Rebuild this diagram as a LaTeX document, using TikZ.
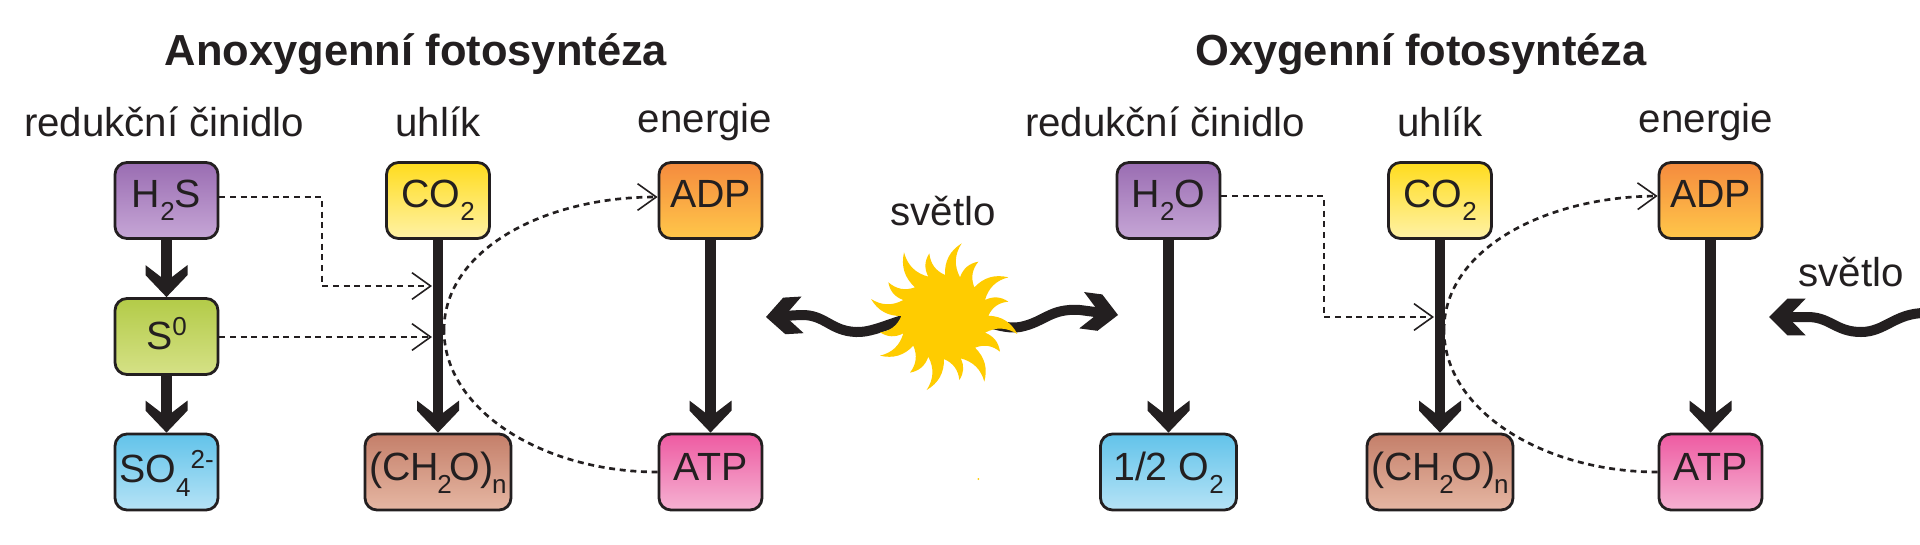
\documentclass[tikz,border=0pt]{standalone}
\usepackage{fontspec}
\setmainfont{Liberation Sans}
\usetikzlibrary{arrows.meta,calc}
\definecolor{ink}{HTML}{231F20}
\pgfdeclarearrow{
  name=Chev,
  setup code={
    \pgfarrowssettipend{0pt}
    \pgfarrowssetbackend{-24pt}
    \pgfarrowssetlineend{-13pt}
    \pgfarrowssetvisualbackend{-13pt}
  },
  drawing code={
    \pgfpathmoveto{\pgfpoint{0pt}{0pt}}
    \pgfpathlineto{\pgfpoint{-16.5pt}{15.75pt}}
    \pgfpathlineto{\pgfpoint{-24pt}{15.75pt}}
    \pgfpathlineto{\pgfpoint{-15pt}{4pt}}
    \pgfpathlineto{\pgfpoint{-15pt}{-4pt}}
    \pgfpathlineto{\pgfpoint{-24pt}{-15.75pt}}
    \pgfpathlineto{\pgfpoint{-16.5pt}{-15.75pt}}
    \pgfpathclose
    \pgfusepathqfill
  }
}
\pgfdeclarearrow{
  name=Chew,
  setup code={
    \pgfarrowssettipend{0pt}
    \pgfarrowssetbackend{-27.5pt}
    \pgfarrowssetlineend{-14pt}
    \pgfarrowssetvisualbackend{-14pt}
  },
  drawing code={
    \pgfpathmoveto{\pgfpoint{0pt}{0pt}}
    \pgfpathlineto{\pgfpoint{-13.75pt}{13.75pt}}
    \pgfpathlineto{\pgfpoint{-27.5pt}{13.75pt}}
    \pgfpathlineto{\pgfpoint{-17.5pt}{3.5pt}}
    \pgfpathlineto{\pgfpoint{-17.5pt}{-3.5pt}}
    \pgfpathlineto{\pgfpoint{-27.5pt}{-13.75pt}}
    \pgfpathlineto{\pgfpoint{-13.75pt}{-13.75pt}}
    \pgfpathclose
    \pgfusepathqfill
  }
}
\newcommand{\sbs}[1]{\raisebox{-10pt}{\fontsize{19.5pt}{19.5pt}\selectfont #1}}
\newcommand{\sps}[1]{\raisebox{11pt}{\fontsize{19.5pt}{19.5pt}\selectfont #1}}
\tikzset{
  chem/.style={draw=ink,line width=2.1pt,rounded corners=9pt,inner sep=0pt,
    minimum width=77.25pt,minimum height=57pt,text=ink,
    text height=20pt,text depth=10pt,
    font=\fontsize{29.5pt}{31pt}\selectfont},
  lowone/.style={text height=22pt},
  lowtwo/.style={text height=26pt},
  lowthree/.style={text height=30pt},
  widebox/.style={minimum width=109.5pt},
  midbox/.style={minimum width=102pt},
  purple/.style={top color=violetA,bottom color=violetB},
  lime/.style={top color=limeA,bottom color=limeB},
  sky/.style={top color=skyA,bottom color=skyB},
  sun1/.style={top color=yelA,bottom color=yelB},
  brown/.style={top color=broA,bottom color=broB},
  orange/.style={top color=oraA,bottom color=oraB},
  pink/.style={top color=pinA,bottom color=pinB},
  head/.style={text=ink,font=\fontsize{30.2pt}{32pt}\selectfont},
  title/.style={text=ink,font=\fontsize{32.6pt}{34pt}\selectfont\bfseries},
  flow/.style={line width=8pt,draw=ink,-{Chev}},
  wave/.style={line width=7.5pt,draw=ink,-{Chew},line cap=round},
  link/.style={draw=ink,line width=2pt,dash pattern=on 4.5pt off 3.5pt,
    -{Straight Barb[length=14pt,width=20pt,line width=1.2pt]}},
  linkplain/.style={draw=ink,line width=2pt,dash pattern=on 4.5pt off 3.5pt},
  ray/.style={bend left=30},
  ret/.style={bend right=30}
}
\definecolor{violetA}{HTML}{9A6DB2}\definecolor{violetB}{HTML}{C6A6D6}
\definecolor{limeA}{HTML}{B3CB48}\definecolor{limeB}{HTML}{D5E186}
\definecolor{skyA}{HTML}{62C3EA}\definecolor{skyB}{HTML}{B6E3F6}
\definecolor{yelA}{HTML}{FFDC1E}\definecolor{yelB}{HTML}{FFF2A6}
\definecolor{broA}{HTML}{C47F6A}\definecolor{broB}{HTML}{E6B7A3}
\definecolor{oraA}{HTML}{F58B3E}\definecolor{oraB}{HTML}{FFC74A}
\definecolor{pinA}{HTML}{EE5BA2}\definecolor{pinB}{HTML}{F5B2D2}
\begin{document}
\begin{tikzpicture}[x=0.75pt,y=-0.75pt]
\useasboundingbox (0,0) rectangle (1920,544);
\clip (0,0) rectangle (1920,544);
\fill[white] (0,0) rectangle (1920,544);
% titles
\node[title] (t1) at (416,54) {Anoxygenní fotosyntéza};
\node[title] (t2) at (1421,54) {Oxygenní fotosyntéza};
% headings
\node[head] (a1) at (164,122) {redukční činidlo};
\node[head] (a2) at (438,122) {uhlík};
\node[head] (a3) at (705,122) {energie};
\node[head] (a4) at (943,211) {světlo};
\node[head] (b1) at (1165,122) {redukční činidlo};
\node[head] (b2) at (1440,122) {uhlík};
\node[head] (b3) at (1706,122) {energie};
\node[head] (b4) at (1851,272) {světlo};
% left boxes
\node[chem,purple] (h2s) at (166.5,200.5) {H\sbs{2}S};
\node[chem,lime,lowthree] (s0) at (166.5,336.5) {S\sps{0}};
\node[chem,sky,lowtwo] (so4) at (166.5,472) {SO\sbs{4}\sps{2-}};
\node[chem,sun1] (co2a) at (438,200.5) {CO\sbs{2}};
\node[chem,brown,widebox,lowone] (cha) at (438,472) {(CH\kern-1.5pt\sbs{2}\kern-1.5ptO)\kern-1pt\sbs{n}};
\node[chem,orange] (adpa) at (710.5,200.5) {ADP};
\node[chem,pink,lowone] (atpa) at (710.5,472) {ATP};
% right boxes
\node[chem,purple] (h2o) at (1168.5,200.5) {H\sbs{2}O};
\node[chem,sky,midbox,lowone] (o2) at (1168.5,472) {1/2 O\sbs{2}};
\node[chem,sun1] (co2b) at (1440,200.5) {CO\sbs{2}};
\node[chem,brown,widebox,lowone] (chb) at (1440,472) {(CH\kern-1.5pt\sbs{2}\kern-1.5ptO)\kern-1pt\sbs{n}};
\node[chem,orange] (adpb) at (1710.5,200.5) {ADP};
\node[chem,pink,lowone] (atpb) at (1710.5,472) {ATP};
% thick flows
\draw[flow] (h2s) -- (s0);
\draw[flow] (s0) -- (so4);
\draw[flow] (co2a) -- (cha);
\draw[flow] (adpa) -- (atpa);
\draw[flow] (h2o) -- (o2);
\draw[flow] (co2b) -- (chb);
\draw[flow] (adpb) -- (atpb);
% dashed links
\coordinate (j1) at (322,197);
\coordinate (e1) at (432,286);
\coordinate (e2) at (432,337);
\coordinate (j2) at (1324,196);
\coordinate (e3) at (1434,317);
\coordinate (m1) at (444,330);
\coordinate (m2) at (1444,330);
\draw[link] (h2s.east |- j1) -- (j1) |- (e1);
\draw[link] (s0.east |- e2) -- (e2);
\draw[link] (h2o.east |- j2) -- (j2) |- (e3);
\draw[linkplain] (atpa.west) .. controls +(-115,0) and (444,410) .. (m1);
\draw[link] (m1) .. controls (444,250) and (544,197) .. (adpa.west |- j1);
\draw[linkplain] (atpb.west) .. controls +(-115,0) and (1444,410) .. (m2);
\draw[link] (m2) .. controls (1444,250) and (1544,197) .. (adpb.west |- j2);
% sun and wavy arrows
\coordinate (sun) at (943,315);
\coordinate (wl) at (766,317);
\coordinate (wr) at (1118,315);
\coordinate (wb) at (1769,317);
\coordinate (we) at (1925,313);
\draw[wave] (sun) .. controls (905,312) and (880,333) .. (856,332)
  .. controls (830,331) and (825,314) .. (800,315) -- (wl);
\draw[wave] (sun) .. controls (985,318) and (1000,330) .. (1020,327)
  .. controls (1045,322) and (1050,308) .. (1080,310) -- (wr);
\draw[wave] (we) .. controls (1895,313) and (1885,332) .. (1861,332)
  .. controls (1835,332) and (1830,316) .. (1805,317) -- (wb);
\begin{scope}[shift={(740,180)},x=0.25pt,y=-0.25pt]
\fill[fill={rgb,255:red,255;green,204;blue,0}]
 (615,285) to[ray] (665,190) to[ret] (660,292)
 to[ray] (715,245) to[ret] (703,322)
 to[ray] (805,292) to[ret] (735,360)
 to[ray] (805,365) to[ret] (745,407)
 to[ray] (832,462) to[ret] (735,458)
 to[ray] (780,515) to[ret] (705,503)
 to[ray] (733,605) to[ret] (662,535)
 to[ray] (658,600) to[ret] (612,537)
 to[ray] (560,630) to[ret] (565,530)
 to[ray] (510,578) to[ret] (520,497)
 to[ray] (420,527) to[ret] (490,460)
 to[ray] (420,457) to[ret] (484,408)
 to[ray] (393,357) to[ret] (490,360)
 to[ray] (445,307) to[ret] (525,322)
 to[ray] (492,217) to[ret] (565,290)
 to[ray] (568,220) to[ret] (615,285) -- cycle;
\fill[fill={rgb,255:red,255;green,204;blue,0}] (715,897) circle (3);
\end{scope}
\end{tikzpicture}
\end{document}
